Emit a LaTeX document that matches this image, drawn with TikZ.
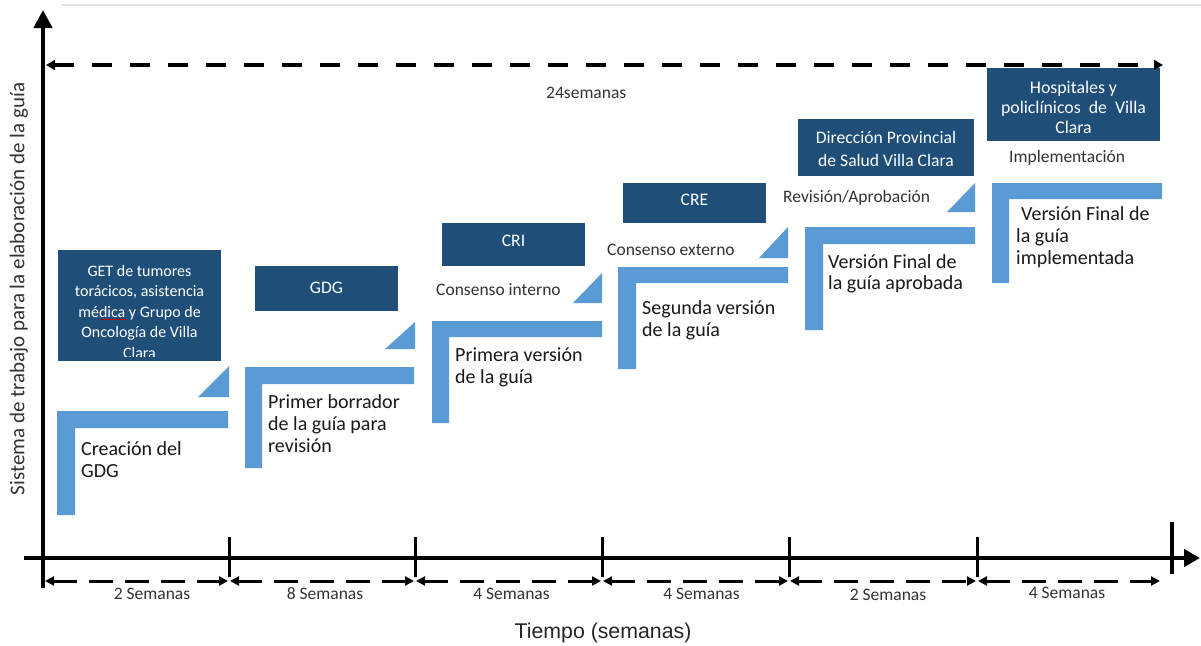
\documentclass[tikz,border=0pt]{standalone}
\usepackage{fontspec}
\setmainfont{Carlito}
\newfontfamily\arialf{Liberation Sans}
\usetikzlibrary{arrows.meta}
\definecolor{lblue}{HTML}{5B9BD5}
\definecolor{dblue}{HTML}{1F4E79}
\definecolor{txtgray}{HTML}{333333}
\begin{document}
\begin{tikzpicture}[x=1pt,y=-1pt,
  axisline/.style={line width=4.5pt, black},
  tickline/.style={line width=3pt, black},
  dimline/.style={line width=3pt, black, dash pattern=on 24pt off 12pt,
    {Triangle[length=9pt,width=9pt]}-{Triangle[length=9pt,width=9pt]}},
  topdim/.style={line width=3.5pt, black, dash pattern=on 20pt off 18pt,
    {Triangle[length=9pt,width=10pt]}-{Triangle[length=9pt,width=10pt]}},
  lshape/.style={fill=lblue, draw=none},
  tri/.style={fill=lblue, draw=none},
  dbox/.style={fill=dblue, draw=none, inner sep=0pt},
  dtext/.style={anchor=base, inner sep=0pt, align=center, text=white,
    font=\fontsize{17.6}{23}\selectfont},
  ltext/.style={anchor=base west, inner sep=0pt, align=left, text=black!90,
    font=\fontsize{20}{22}\selectfont},
  slabel/.style={anchor=base west, inner sep=0pt, text=txtgray,
    font=\fontsize{17.5}{20}\selectfont},
  wlabel/.style={anchor=base, inner sep=0pt, text=txtgray,
    font=\fontsize{17.5}{20}\selectfont},
]
\useasboundingbox (0,0) rectangle (1201,645);
\fill[white] (0,0) rectangle (1201,645);
% faint top line
\draw[gray!22, line width=2pt] (62,5) -- (1201,5);

% ---------- light blue L shapes ----------
\fill[lshape] (57,411) -- (228,411) -- (228,428) -- (75,428) -- (75,515) -- (57,515) -- cycle;
\fill[lshape] (245,367) -- (414,367) -- (414,384) -- (262,384) -- (262,468) -- (245,468) -- cycle;
\fill[lshape] (432,321) -- (602,321) -- (602,337) -- (449,337) -- (449,423) -- (432,423) -- cycle;
\fill[lshape] (618,267) -- (788,267) -- (788,283) -- (636,283) -- (636,369) -- (618,369) -- cycle;
\fill[lshape] (805,227) -- (975,227) -- (975,244) -- (823,244) -- (823,330) -- (805,330) -- cycle;
\fill[lshape] (992,183) -- (1162,183) -- (1162,199) -- (1009,199) -- (1009,283) -- (992,283) -- cycle;

% ---------- triangles ----------
\fill[tri] (198,397) -- (229,397) -- (229,366) -- cycle;
\fill[tri] (385,349) -- (415,349) -- (415,322) -- cycle;
\fill[tri] (573,303) -- (602,303) -- (602,273) -- cycle;
\fill[tri] (759,258) -- (788,258) -- (788,227) -- cycle;
\fill[tri] (947,212) -- (975,212) -- (975,183) -- cycle;

% ---------- dark boxes (multi-line texts placed by their last baseline) ----------
\node[dbox, minimum width=163pt, minimum height=111pt] (get) at (139.5,305.5) {};
\begin{scope}
  \clip (get.north west) rectangle ([yshift=5pt]get.south east);
  \node[dtext, font=\fontsize{16}{20.5}\selectfont] (gettxt) at (139.5,358)
    {GET de tumores\\torácicos, asistencia\\médica y Grupo de\\Oncología de Villa\\Clara};
\end{scope}
\draw[red!75!black, line width=0.9pt] (101,319) -- (126,319);

\node[dbox, minimum width=143pt, minimum height=45pt] (gdg) at (326.5,288.5) {};
\node[dtext] (gdgtxt) at (326.5,293) {GDG};

\node[dbox, minimum width=143pt, minimum height=43pt] (cri) at (513.5,244.5) {};
\node[dtext] (critxt) at (513.5,246) {CRI};

\node[dbox, minimum width=143pt, minimum height=40pt] (cre) at (694.5,203) {};
\node[dtext] (cretxt) at (694.5,205) {CRE};

\node[dbox, minimum width=176pt, minimum height=57pt] (dir) at (886,147.5) {};
\node[dtext] (dirtxt) at (886,166) {Dirección Provincial\\de Salud Villa Clara};

\node[dbox, minimum width=173pt, minimum height=73pt] (hosp) at (1073.5,104.5) {};
\node[dtext, font=\fontsize{17.8}{20}\selectfont] (hosptxt) at (1073.5,133)
  {Hospitales y\\policlínicos\ \ de\ \ Villa\\Clara};

% ---------- step texts ----------
\node[ltext] (s1) at (81,477) {Creación del\\GDG};
\node[ltext] (s2) at (268,452) {Primer borrador\\de la guía para\\revisión};
\node[ltext] (s3) at (455,383) {Primera versión\\de la guía};
\node[ltext] (s4) at (642,336) {Segunda versión\\de la guía};
\node[ltext, font=\fontsize{20}{21}\selectfont] (s5) at (828,289) {Versión Final de\\la guía aprobada};
\node[ltext] (s6) at (1016,264) {\hspace{5pt}Versión Final de\\la guía\\implementada};

% ---------- small labels ----------
\node[slabel] (ci) at (436,295) {Consenso interno};
\node[slabel] (ce) at (607,255) {Consenso externo};
\node[slabel] (ra) at (783,202) {Revisión/Aprobación};
\node[slabel] (im) at (1009,162) {Implementación};
\node[slabel] (tot) at (546,98) {24semanas};

% ---------- axes ----------
\coordinate (t0) at (43,558);
\coordinate (t1) at (229,558);
\coordinate (t2) at (415,558);
\coordinate (t3) at (602,558);
\coordinate (t4) at (789,558);
\coordinate (t5) at (977,558);
\coordinate (t6) at (1172,558);
\coordinate (yb) at (43,588);
\coordinate (yt) at (43,10);
\coordinate (xl) at (24,558);
\coordinate (xr) at (1200,558);

\draw[axisline, -{Triangle[length=18pt,width=18pt]}] (yb) -- (yt);
\draw[axisline, -{Triangle[length=16pt,width=17pt]}] (xl) -- (xr);
\foreach \t in {t1,t2,t3,t4,t5}
  \draw[tickline] ([yshift=21pt]\t) -- ([yshift=-19pt]\t);
\draw[line width=4.3pt] ([yshift=36pt]t6) -- ([yshift=-16pt]t6);

% top total arrow
\coordinate (ta) at (46,65);
\coordinate (tb) at (1163,65);
\draw[topdim] (ta) -- (tb);

% interval arrows
\draw[dimline] ([shift={(2,23)}]t0) -- ([shift={(-1,23)}]t1);
\draw[dimline] ([shift={(1,23)}]t1) -- ([shift={(-1,23)}]t2);
\draw[dimline] ([shift={(1,23)}]t2) -- ([shift={(-1,23)}]t3);
\draw[dimline] ([shift={(1,23)}]t3) -- ([shift={(-1,23)}]t4);
\draw[dimline] ([shift={(1,23)}]t4) -- ([shift={(-1,23)}]t5);
\draw[dimline] ([shift={(1,23)}]t5) -- (1160,581);

\node[wlabel] (w1) at (152,599) {2 Semanas};
\node[wlabel] (w2) at (325,599) {8 Semanas};
\node[wlabel] (w3) at (511.5,599) {4 Semanas};
\node[wlabel] (w4) at (701.5,599) {4 Semanas};
\node[wlabel] (w5) at (888,600) {2 Semanas};
\node[wlabel] (w6) at (1067,598) {4 Semanas};

% axis titles
\node[anchor=base, inner sep=0pt, font=\arialf\fontsize{21.3}{25}\selectfont, text=black!85] (xt) at (603,638) {Tiempo (semanas)};
\node[rotate=90, inner sep=0pt, font=\fontsize{21}{24}\selectfont, text=black!80] (ytl) at (19,289) {Sistema de trabajo para la elaboración de la guía};
\end{tikzpicture}
\end{document}
